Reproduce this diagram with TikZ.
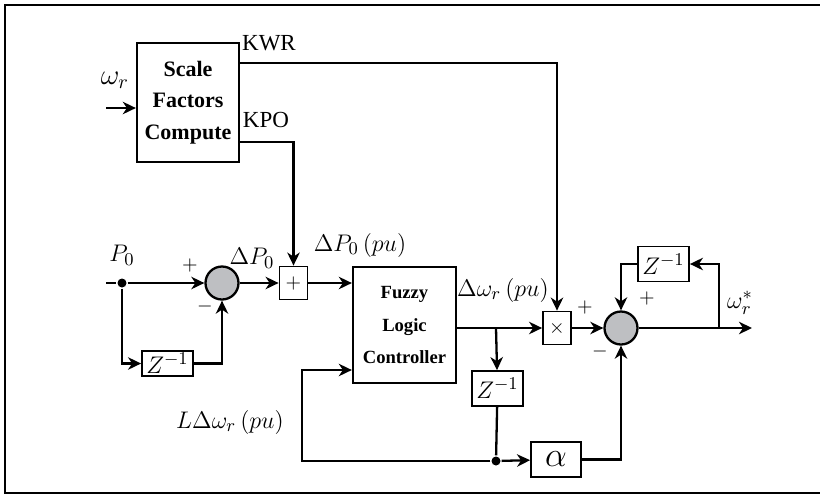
\documentclass[tikz,border=0pt]{standalone}
\usepackage{fontspec}
\setmainfont{Liberation Serif}
\usepackage{amsmath}
\usetikzlibrary{arrows.meta}
\definecolor{sumgray}{RGB}{190,191,194}

\begin{document}
\begin{tikzpicture}[
    x=0.5pt, y=-0.5pt,
    line width=1.15pt,
    >={Stealth[length=6.5pt,width=6.2pt,inset=2pt]},
    blk/.style={draw, fill=white, align=center, inner sep=0pt},
    sum/.style={draw, circle, fill=sumgray, minimum size=16.5pt, inner sep=0pt},
    op/.style={draw, inner sep=0pt, minimum width=14pt, minimum height=16.5pt, line width=0.9pt, font=\fontsize{10}{12}\selectfont},
    zbox/.style={draw, inner sep=0pt, minimum width=25.5pt, line width=0.9pt, font=\fontsize{12.5}{14}\selectfont},
    dot/.style={circle, fill, inner sep=0pt, minimum size=4.5pt},
    sig/.style={font=\fontsize{12.5}{14}\selectfont},
    sgn/.style={font=\fontsize{10}{12}\selectfont},
    port/.style={font=\fontsize{11.5}{13}\selectfont}
  ]
  \useasboundingbox (0,0) rectangle (820,494);
  \draw[line width=0.8pt] (5,5) rectangle (830,493);

  % blocks
  \node[blk, minimum width=51pt, minimum height=59.5pt, font=\bfseries\fontsize{11}{15.75}\selectfont] (SF) at (188,102.5) {Scale\\Factors\\Compute};
  \node[blk, minimum width=51.5pt, minimum height=58pt, font=\bfseries\fontsize{9.3}{16.25}\selectfont] (FLC) at (404.5,325) {Fuzzy\\Logic\\Controller};
  \node[sum] (S1) at (222,283) {};
  \node[sum] (S2) at (621,328) {};
  \node[op] (ADD) at (293.5,283) {$+$};
  \node[op] (MUL) at (557,328) {$\times$};
  \node[zbox, minimum height=12.75pt] (Z1) at (167.5,363.5) {$Z^{-1}$};
  \node[zbox, minimum height=17.5pt] (Z2) at (497.5,388.5) {$Z^{-1}$};
  \node[zbox, minimum height=17.5pt] (Z3) at (663.5,264) {$Z^{-1}$};
  \node[blk, minimum width=25pt, minimum height=17.5pt, line width=0.9pt, font=\fontsize{16}{18}\selectfont] (AL) at (556,459.5) {$\alpha$};
  \node[dot] (p0) at (122,283) {};
  \node[dot] (d2) at (496,461) {};

  % free ends and corners
  \coordinate (win) at (106,108);
  \coordinate (kwr) at (557,63);
  \coordinate (kpo) at (293.5,142);
  \coordinate (pin) at (106,283);
  \coordinate (br1) at (496,328);
  \coordinate (fb) at (302,461);
  \coordinate (fbin) at (353,370);
  \coordinate (br2) at (719,328);
  \coordinate (wout) at (752,328);

  % labels
  \node[sig, font=\fontsize{14}{16}\selectfont] (wrin) at (115,80) {$\omega_r$};
  \node[port] (kwrl) at (269,43) {KWR};
  \node[port] (kpol) at (266,120) {KPO};
  \node[sig] (p0l) at (122,255) {$P_0$};
  \node[sig] (dp0l) at (252,258) {$\Delta P_0$};
  \node[sig] (dp0pu) at (360,245) {$\Delta P_0\left(pu\right)$};
  \node[sig] (dwpu) at (503,290) {$\Delta\omega_r\left(pu\right)$};
  \node[sig] (ldw) at (230,422) {$L\Delta\omega_r\left(pu\right)$};
  \node[sig] (wrout) at (740,303) {$\omega_r^{*}$};
  \node[sgn] (s1p) at (190,265) {$+$};
  \node[sgn] (s1m) at (205,306) {$-$};
  \node[sgn] (s2p) at (585,307) {$+$};
  \node[sgn] (s2m) at (600,351) {$-$};
  \node[sgn] (s2q) at (647,298) {$+$};

  % connections
  \draw[->] (win) -- (SF.west |- win);
  \draw[->] (SF.east |- kwr) -- (kwr) -- (MUL.north);
  \draw[->] (SF.east |- kpo) -- (kpo) -- (ADD.north);
  \draw (pin) -- (p0);
  \draw[->] (p0) -- (S1);
  \draw[->] (p0) |- (Z1);
  \draw[->] (Z1) -| (S1);
  \draw[->] (S1) -- (ADD);
  \draw[->] (ADD) -- (FLC.west |- ADD);
  \draw (FLC.east |- br1) -- (br1);
  \draw[->] (br1) -- (MUL);
  \draw[->] (br1) -- (Z2);
  \draw (Z2) -- (d2);
  \draw[->] (d2) -- (AL);
  \draw[->] (d2) -- (fb) |- (FLC.west |- fbin);
  \draw[->] (AL) -| (S2);
  \draw[->] (MUL) -- (S2);
  \draw[->] (S2) -- (wout);
  \draw[->] (br2) |- (Z3);
  \draw[->] (Z3) -| (S2);
\end{tikzpicture}
\end{document}
